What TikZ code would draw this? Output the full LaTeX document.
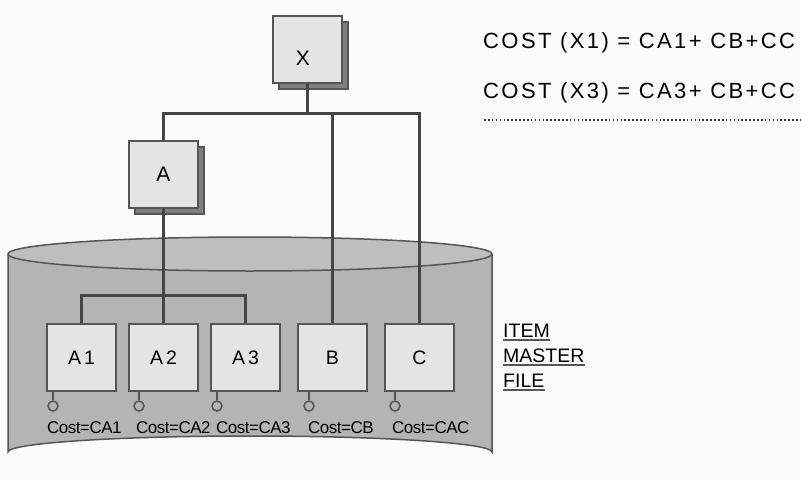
\documentclass[tikz,border=0pt]{standalone}
\usepackage{fontspec}
\setmainfont{Liberation Sans}
\newfontfamily\wide[LetterSpace=11]{Liberation Sans}
\newfontfamily\boxfont[LetterSpace=16]{Liberation Sans}
\newfontfamily\tight[LetterSpace=-3]{Liberation Sans}
\usetikzlibrary{shadows}
\definecolor{bgc}{HTML}{FBFBFB}
\definecolor{linec}{HTML}{454545}
\definecolor{edgec}{HTML}{555555}
\definecolor{boxc}{HTML}{E4E4E4}
\definecolor{shadc}{HTML}{808080}
\definecolor{cyltop}{HTML}{BEBEBE}
\definecolor{cylbody}{HTML}{B4B4B4}
\tikzset{
  conn/.style={draw=linec, line width=3pt},
  itembox/.style={draw=edgec, line width=1.5pt, fill=boxc, minimum width=69pt, minimum height=67pt, inner sep=0pt, text=black, font=\fontsize{19.5}{21}\selectfont},
  shadbox/.style={itembox, drop shadow={shadow xshift=6pt, shadow yshift=-6pt, fill=shadc, draw=edgec, line width=1.5pt, opacity=1}},
  port/.style={circle, draw=edgec, line width=1.5pt, fill=cylbody, minimum size=10pt, inner sep=0pt},
  stub/.style={draw=edgec, line width=1.5pt},
  costlbl/.style={anchor=base west, inner sep=0pt, font=\tight\fontsize{17}{18}\selectfont},
  eqlbl/.style={anchor=base west, inner sep=0pt, font=\wide\fontsize{22}{25}\selectfont},
  filelbl/.style={anchor=base west, inner sep=0pt, font=\fontsize{19.5}{22}\selectfont},
  ul/.style={draw=edgec, line width=2pt},
}
\begin{document}
\begin{tikzpicture}[x=1pt, y=-1pt]
\useasboundingbox[fill=bgc] (0,0) rectangle (801,479);

% cylinder
\fill[cylbody] (8,254) -- (8,452) arc[start angle=180, end angle=360, x radius=242, y radius=16] -- (492,254) -- cycle;
\draw[edgec, line width=1.5pt] (8,254) -- (8,452) arc[start angle=180, end angle=360, x radius=242, y radius=16] -- (492,254);
\draw[edgec, line width=1.5pt, fill=cyltop] (250,254) ellipse[x radius=242, y radius=17];

% top boxes
\node[shadbox] (X) at (307.5,49.5) {};
\node[font=\fontsize{21}{22}\selectfont, inner sep=0pt, anchor=base] (Xl) at (303,65) {X};
\node[shadbox, font=\fontsize{21}{22}\selectfont] (A) at (163.5,174.5) {A};

% item boxes
\node[itembox] (A1) at (81.5,357.5) {\boxfont A1};
\node[itembox] (A2) at (163.5,357.5) {\boxfont A2};
\node[itembox] (A3) at (245.5,357.5) {\boxfont A3};
\node[itembox] (B) at (332.5,357.5) {B};
\node[itembox] (C) at (419.5,357.5) {C};

% connectors
\coordinate (xbus) at (307.5,113);
\coordinate (abus) at (163.5,295);
\draw[conn] (X.south) -- (xbus);
\draw[conn] (A.north) |- (xbus) -| (C.north);
\draw[conn] (xbus) -| (B.north);
\draw[conn] (A.south) -- (A2.north);
\draw[conn] (A1.north) |- (abus) -| (A3.north);

% ports
\node[port] (p1) at (53,406) {};
\node[port] (p2) at (139,406) {};
\node[port] (p3) at (217,406) {};
\node[port] (p4) at (309,406) {};
\node[port] (p5) at (395,406) {};
\draw[stub] (p1.north) -- (p1.north |- A1.south);
\draw[stub] (p2.north) -- (p2.north |- A2.south);
\draw[stub] (p3.north) -- (p3.north |- A3.south);
\draw[stub] (p4.north) -- (p4.north |- B.south);
\draw[stub] (p5.north) -- (p5.north |- C.south);

% cost labels
\node[costlbl] (c1) at (47,433) {Cost=CA1};
\node[costlbl] (c2) at (136,433) {Cost=CA2};
\node[costlbl] (c3) at (216,433) {Cost=CA3};
\node[costlbl] (c4) at (308,433) {Cost=CB};
\node[costlbl] (c5) at (392,433) {Cost=CAC};

% file label
\node[filelbl] (f1) at (503,337) {ITEM};
\node[filelbl] (f2) at (503,362) {MASTER};
\node[filelbl] (f3) at (503,387) {FILE};
\draw[ul] ([yshift=-2.5pt]f1.base west) -- ([yshift=-2.5pt]f1.base east);
\draw[ul] ([yshift=-2.5pt]f2.base west) -- ([yshift=-2.5pt]f2.base east);
\draw[ul] ([yshift=-2.5pt]f3.base west) -- ([yshift=-2.5pt]f3.base east);

% equations
\node[eqlbl] (e1) at (483,48) {COST (X1) = CA1+ CB+CC};
\node[eqlbl] (e2) at (483,98) {COST (X3) = CA3+ CB+CC};
\coordinate (d0) at (484,120);
\coordinate (d1) at (801,120);
\draw[draw=black!80, line width=1.6pt, dash pattern=on 1.6pt off 2.3pt] (d0) -- (d1);
\end{tikzpicture}
\end{document}
